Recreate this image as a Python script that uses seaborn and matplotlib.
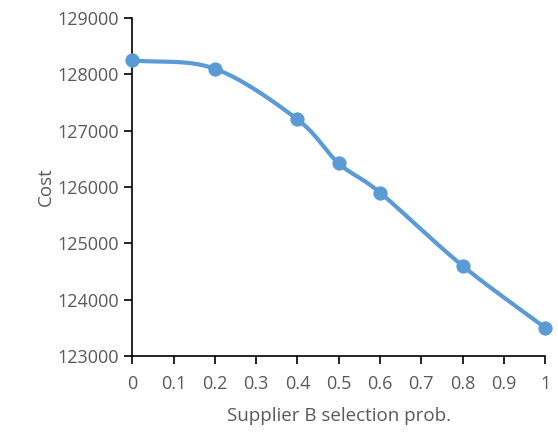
import numpy as np
import pandas as pd
import matplotlib
matplotlib.use("Agg")
import matplotlib.pyplot as plt
import seaborn as sns

prob = [0, 0.2, 0.4, 0.5, 0.6, 0.8, 1.0]
cost = [128250, 128100, 127200, 126420, 125900, 124600, 123500]
xticks = [0, 0.1, 0.2, 0.3, 0.4, 0.5, 0.6, 0.7, 0.8, 0.9, 1]
yticks = [123000, 124000, 125000, 126000, 127000, 128000, 129000]

sns.set_style("white")
plt.rcParams['font.family'] = ['Open Sans', 'DejaVu Sans']

def catmull(xs, ys, n=30):
    P = np.column_stack([xs, ys]).astype(float)
    P = np.vstack([P[0] - (P[1] - P[0]), P, P[-1] + (P[-1] - P[-2])])
    out = []
    for i in range(1, len(P) - 2):
        p0, p1, p2, p3 = P[i-1], P[i], P[i+1], P[i+2]
        t = np.linspace(0, 1, n)[:, None]
        c = 0.5 * ((2*p1) + (-p0+p2)*t + (2*p0-5*p1+4*p2-p3)*t**2 + (-p0+3*p1-3*p2+p3)*t**3)
        out.append(c)
    c = np.vstack(out)
    return c[:, 0], c[:, 1]

sx, sy = catmull(prob, cost)
color = "#5B9BD5"
fig = plt.figure(figsize=(5.58, 4.41), dpi=100)
ax = fig.add_axes([0.237, 0.193, 0.74, 0.766])
sns.lineplot(x=sx, y=sy, ax=ax, color=color, linewidth=3, sort=False)
sns.scatterplot(x=prob, y=cost, ax=ax, color=color, s=90, edgecolor=color, zorder=3)
ax.set_xlim(0, 1)
ax.set_ylim(123000, 129000)
ax.set_xticks(xticks)
ax.set_xticklabels([f"{v:g}" for v in xticks])
ax.set_yticks(yticks)
ax.set_yticklabels([str(v) for v in yticks])
for s in ["top", "right"]:
    ax.spines[s].set_visible(False)
for s in ["left", "bottom"]:
    ax.spines[s].set_color("black")
    ax.spines[s].set_linewidth(1.2)
ax.tick_params(axis="both", labelsize=13, labelcolor="#595959", length=6, direction="out",
               color="black", width=1.2, left=True, bottom=True)
ax.tick_params(axis="x", pad=8)
ax.set_xlabel("Supplier B selection prob.", fontsize=13.5, color="#595959", labelpad=10)
ax.set_ylabel("Cost", fontsize=13.5, color="#595959", labelpad=2)
for c in ax.collections + ax.lines:
    c.set_clip_on(False)
fig.savefig("out.png", dpi=100)
